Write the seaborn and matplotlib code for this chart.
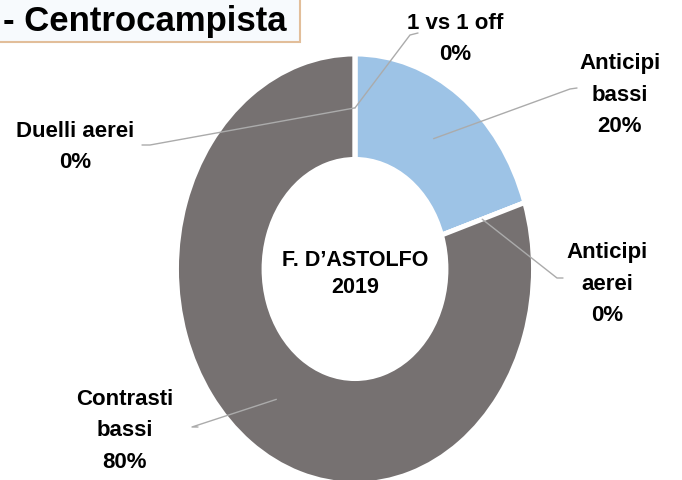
import matplotlib
matplotlib.use("Agg")
import matplotlib.pyplot as plt
import seaborn as sns
import numpy as np
from matplotlib.patches import Rectangle

# ---------------- data ----------------
categories = ["1 vs 1 off", "Anticipi bassi", "Anticipi aerei", "Contrasti bassi", "Duelli aerei"]
label_names = ["1 vs 1 off", "Anticipi\nbassi", "Anticipi\naerei", "Contrasti\nbassi", "Duelli aerei"]
values = [0, 20, 0, 80, 0]
pct_labels = ["0%", "20%", "0%", "80%", "0%"]
slice_colors = ["#A5A5A5", "#9DC3E6", "#FFC000", "#767171", "#5B9BD5"]
title_text = "- Centrocampista"
center_text = "F. D\u2019ASTOLFO\n2019"

# ---------------- style / layout ----------------
sns.set_theme(style="white")
plt.rcParams['font.family'] = ['Liberation Sans', 'DejaVu Sans']

W, H = 682, 481
fig = plt.figure(figsize=(W / 100, H / 100), dpi=100)
fig.patch.set_facecolor("white")

# donut centre and radii in pixels (image is an ellipse)
cx, cy, rx, ry = 355, 270, 176, 212
L = 1.1
ax = fig.add_axes([(cx - L * rx) / W, (H - (cy + L * ry)) / H, 2 * L * rx / W, 2 * L * ry / H])
ax.set_xlim(-L, L)
ax.set_ylim(-L, L)

wedges, _ = ax.pie(values, colors=slice_colors, startangle=90, counterclock=False,
                   radius=1.014,
                   wedgeprops=dict(width=0.497, edgecolor="white", linewidth=3.5))
ax.set_aspect("auto")
ax.set_xlim(-L, L)
ax.set_ylim(-L, L)
ax.axis("off")


def px(x, y):
    return (x - cx) / rx, (cy - y) / ry


# label placement (pixels)
text_pos = [(455, 39), (620, 95), (607, 284), (125, 431), (75, 147)]
elbow_pos = [(410, 36), (570, 90), (557, 279), (192, 428), (150, 146)]
end_pos = [(418, 34), (577, 89), (563, 279), (198, 428), (142, 146)]

total = float(sum(values))
cum = np.concatenate([[0], np.cumsum(values)[:-1]])
for i, v in enumerate(values):
    frac = (cum[i] + v / 2.0) / total
    ang = np.deg2rad(90 - 360 * frac)
    ax0, ay0 = 0.76 * np.cos(ang), 0.76 * np.sin(ang)
    ex, ey = px(*elbow_pos[i])
    fx, fy = px(*end_pos[i])
    ax.plot([ax0, ex, fx], [ay0, ey, fy], color="#ABABAB", lw=1.0, clip_on=False, zorder=5)
    tx, ty = px(*text_pos[i])
    ax.text(tx, ty, label_names[i] + "\n" + pct_labels[i], ha="center", va="center",
            fontsize=16, fontweight="bold", color="black", linespacing=1.68, clip_on=False)

ax.text(0, px(0, 274)[1], center_text, ha="center", va="center", fontsize=15.5,
        fontweight="bold", color="black", linespacing=1.35)

# title box
fig.patches.append(Rectangle((-2 / W, 1 - 43 / H), 302 / W, 45 / H, transform=fig.transFigure,
                             facecolor="#F7FAFD", edgecolor="#E2BE9A", linewidth=1.5, zorder=1))
fig.text(3 / W, 1 - 21 / H, title_text, ha="left", va="center", fontsize=25,
         fontweight="bold", color="black", zorder=2)

fig.savefig("out.png", dpi=100)
